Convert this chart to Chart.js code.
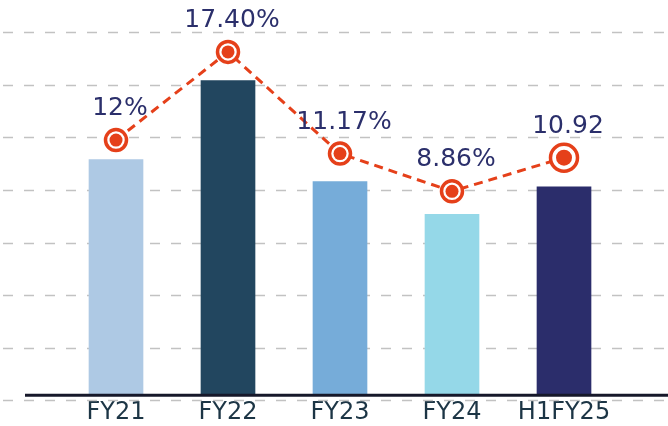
<!DOCTYPE html>
<html>
<head>
<meta charset="utf-8">
<script src="https://cdn.jsdelivr.net/npm/chart.js@4.4.1/dist/chart.umd.min.js"></script>
<style>
  html, body { margin: 0; padding: 0; background: #fff; }
  #wrap { width: 668px; height: 426px; }
</style>
</head>
<body>
<div id="wrap"><canvas id="grafica" width="668" height="426"></canvas></div>
<script>
// datos
const categorias = ['FY21', 'FY22', 'FY23', 'FY24', 'H1FY25'];
const barras = [224, 299, 203, 172, 198];          // altura de barras (sin escala visible)
const porcentajes = [12, 17.40, 11.17, 8.86, 10.92];
const etiquetas = ['12%', '17.40%', '11.17%', '8.86%', '10.92'];
const coloresBarras = ['#aec9e4', '#22465f', '#76acd9', '#95d8e8', '#2b2d6b'];

const naranja = '#e5401a';
const fuente = '"DejaVu Sans", sans-serif';

// lineas de cuadricula discontinuas a todo lo ancho
const cuadricula = {
    id: 'cuadricula',
    beforeDatasetsDraw(chart) {
        const ctx = chart.ctx;
        const y = chart.scales.y;
        ctx.save();
        ctx.strokeStyle = '#c2c2c2';
        ctx.lineWidth = 1.7;
        ctx.setLineDash([10, 11]);
        y.ticks.forEach(t => {
            const py = Math.round(y.getPixelForValue(t.value)) + 0.5;
            ctx.beginPath();
            ctx.moveTo(3, py);
            ctx.lineTo(668, py);
            ctx.stroke();
        });
        ctx.restore();
    },
    afterDatasetsDraw(chart) {
        const ctx = chart.ctx;
        const y = chart.scales.y;
        // eje base
        ctx.save();
        ctx.strokeStyle = '#16182a';
        ctx.lineWidth = 3;
        const py = y.getPixelForValue(0);
        ctx.beginPath();
        ctx.moveTo(25, py);
        ctx.lineTo(668, py);
        ctx.stroke();

        // etiquetas de porcentaje
        const meta = chart.getDatasetMeta(1);
        ctx.fillStyle = '#2b2f6b';
        ctx.font = '25px ' + fuente;
        ctx.textAlign = 'center';
        ctx.textBaseline = 'alphabetic';
        meta.data.forEach((p, i) => {
            ctx.fillText(etiquetas[i], p.x + 4, p.y - 25);
        });
        ctx.restore();
    }
};

const ctx = document.getElementById('grafica').getContext('2d');
const grafica = new Chart(ctx, {
    type: 'bar',
    data: {
        labels: categorias,
        datasets: [{
            type: 'bar',
            data: barras,
            backgroundColor: coloresBarras,
            barThickness: 54,
            yAxisID: 'y',
            order: 3
        }, {
            type: 'line',
            data: porcentajes,
            borderColor: naranja,
            borderWidth: 3,
            borderDash: [9, 6],
            pointRadius: [10.5, 10.5, 10.5, 10.5, 13.5],
            pointBorderWidth: 3.5,
            pointBorderColor: naranja,
            pointBackgroundColor: '#fff',
            yAxisID: 'y2',
            clip: false,
            order: 1
        }, {
            type: 'line',
            data: porcentajes,
            showLine: false,
            pointRadius: [6.5, 6.5, 6.5, 6.5, 8],
            pointBorderWidth: 0,
            pointBackgroundColor: naranja,
            yAxisID: 'y2',
            clip: false,
            order: 0
        }]
    },
    options: {
        responsive: false,
        animation: false,
        layout: { padding: { left: 60, right: 48, top: 32, bottom: 0 } },
        plugins: { legend: { display: false }, tooltip: { enabled: false } },
        scales: {
            x: {
                grid: { display: false, drawTicks: false },
                border: { display: false },
                ticks: {
                    color: '#1c3545',
                    padding: 2,
                    font: { family: fuente, size: 24, lineHeight: 0.9 }
                }
            },
            y: {
                display: false,
                min: -4.8,
                max: 345.2,
                ticks: { count: 8 }
            },
            y2: {
                display: false,
                min: -3.95,
                max: 18.62
            }
        }
    },
    plugins: [cuadricula]
});
</script>
</body>
</html>
